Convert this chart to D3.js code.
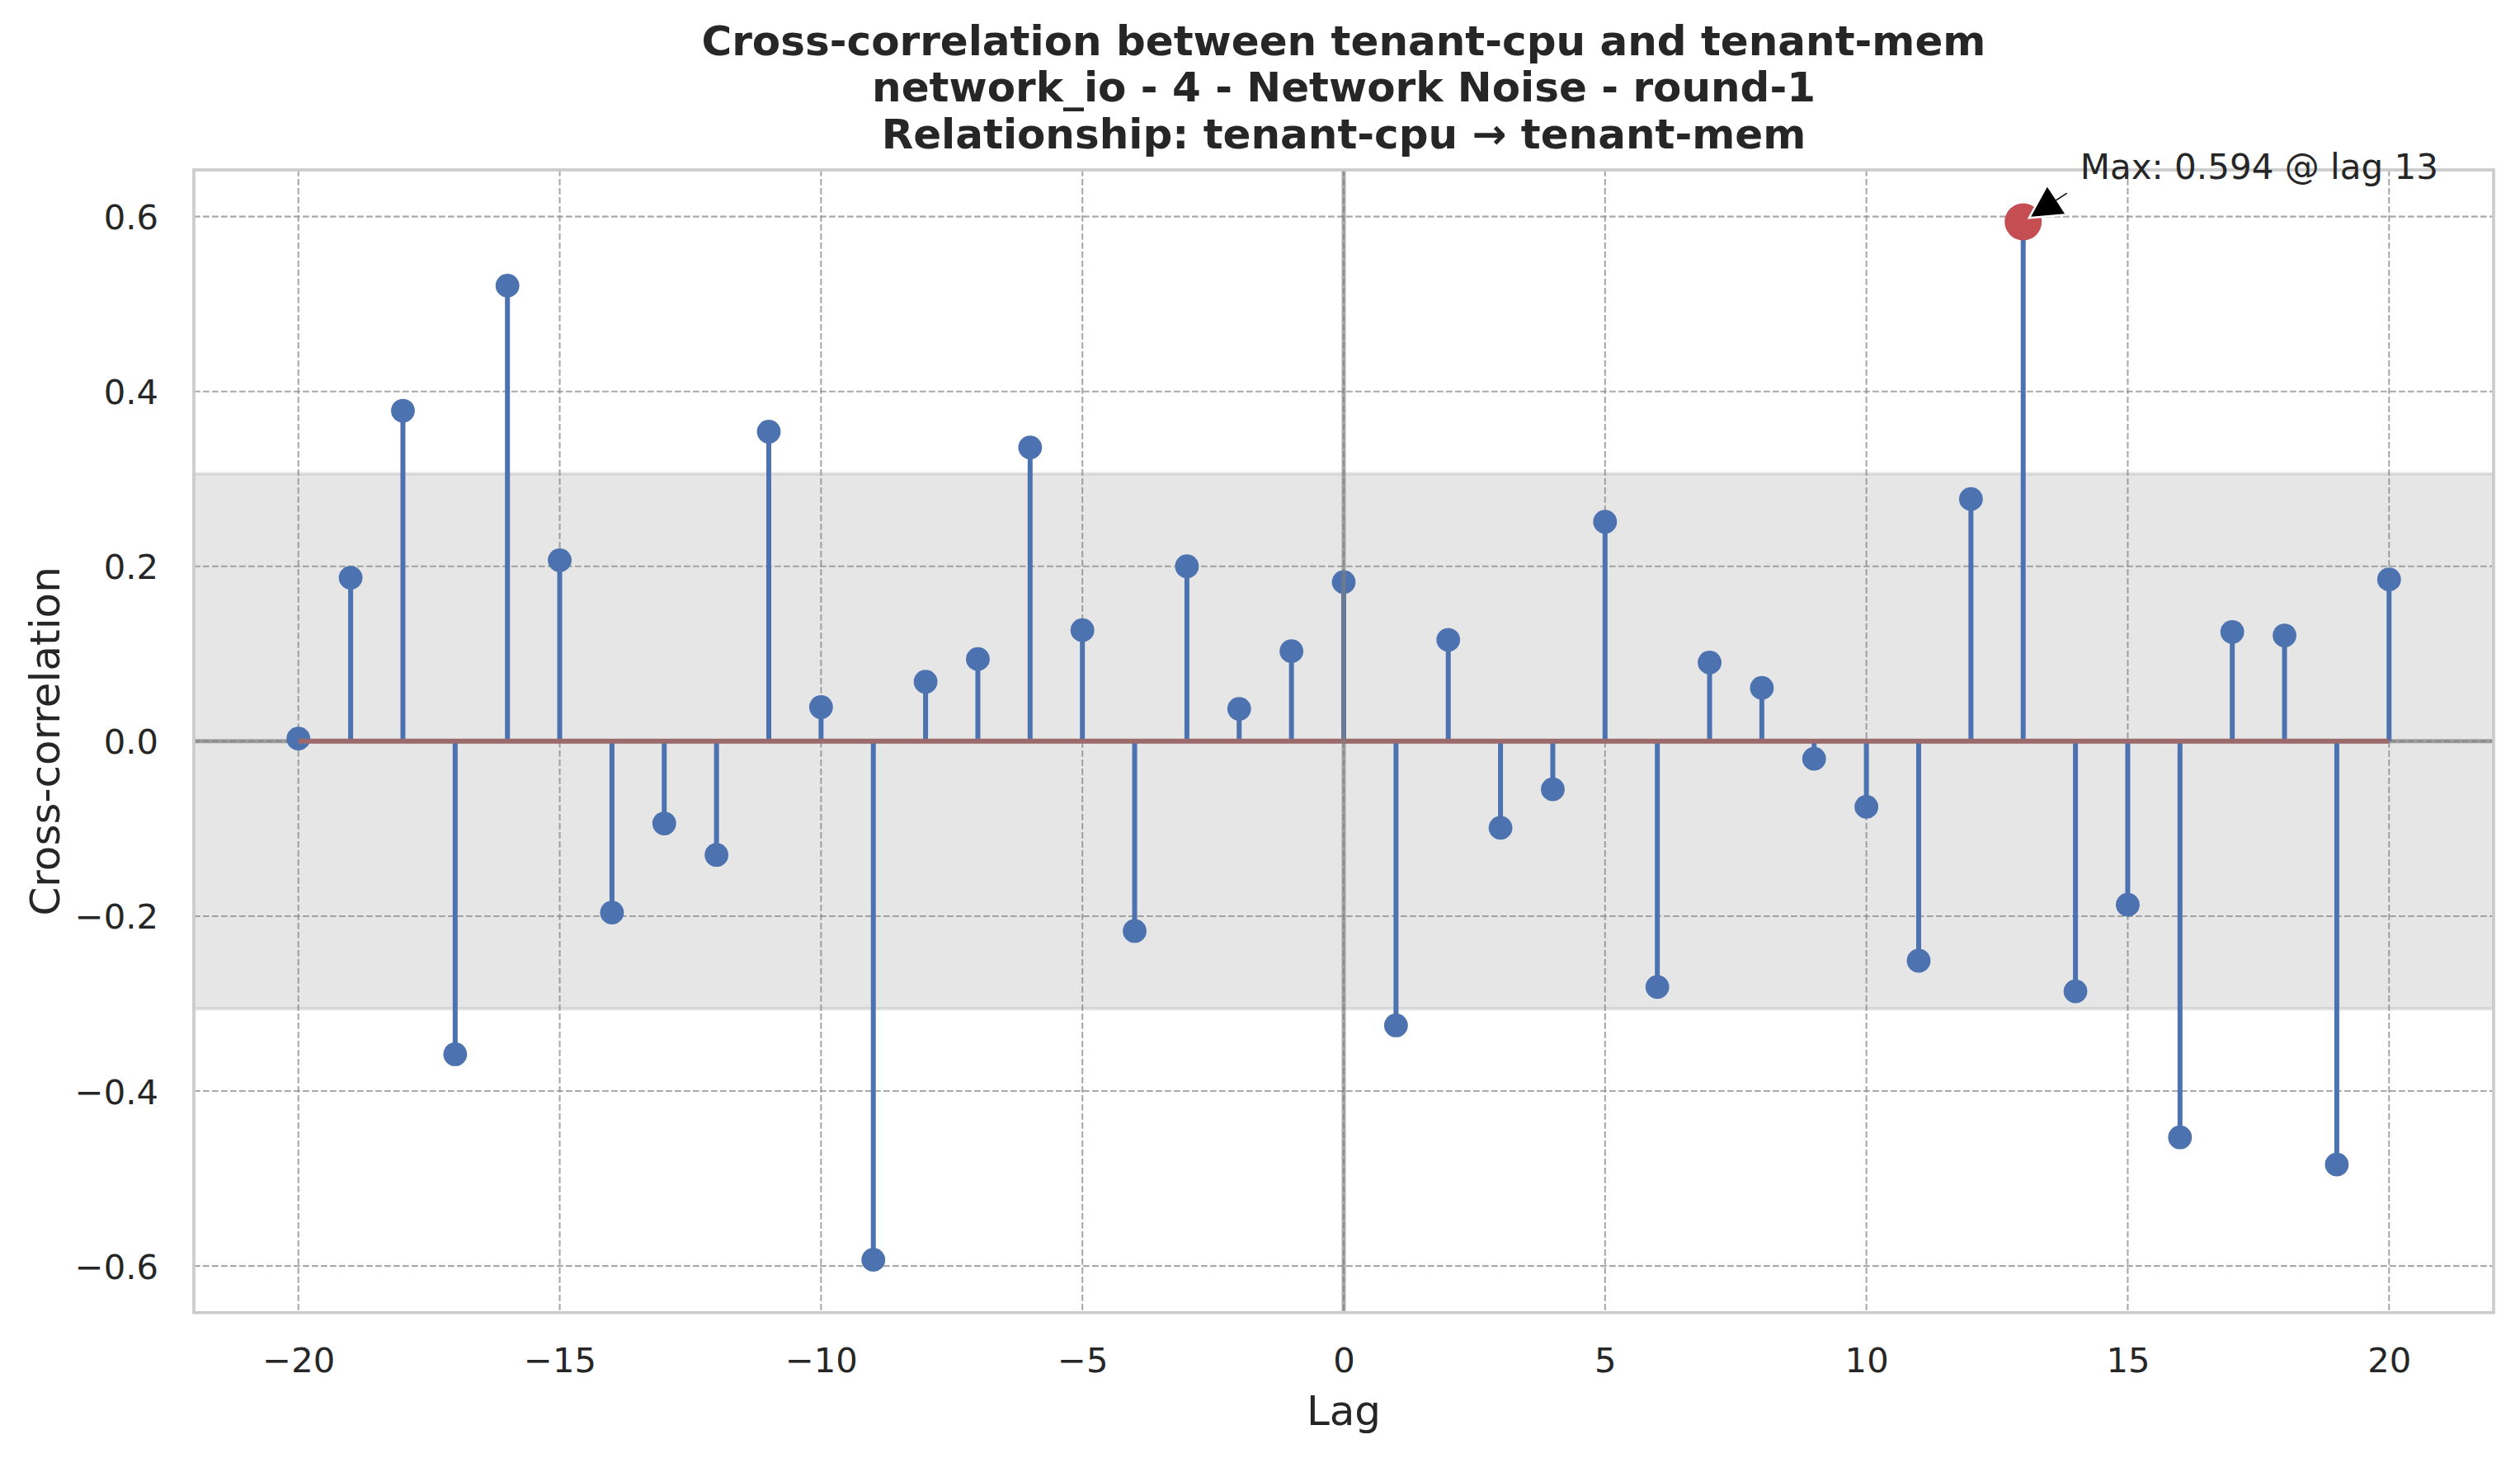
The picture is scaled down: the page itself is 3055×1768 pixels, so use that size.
<!DOCTYPE html>
<html>
<head>
<meta charset="utf-8">
<script src="https://cdn.jsdelivr.net/npm/d3@7"></script>
<style>
  html, body { margin: 0; padding: 0; background: #ffffff; }
  svg { display: block; }
  text { font-family: "DejaVu Sans", sans-serif; fill: #262626; }
</style>
</head>
<body>
<svg id="chart" width="3055" height="1768"></svg>
<script>
// ---- data ----
const lags = [-20,-19,-18,-17,-16,-15,-14,-13,-12,-11,-10,-9,-8,-7,-6,-5,-4,-3,-2,-1,0,1,2,3,4,5,6,7,8,9,10,11,12,13,14,15,16,17,18,19,20];
const ccf  = [0.003,0.187,0.378,-0.358,0.521,0.207,-0.196,-0.094,-0.130,0.354,0.039,-0.593,0.068,0.094,0.336,0.127,-0.217,0.200,0.037,0.103,0.182,-0.325,0.116,-0.099,-0.055,0.251,-0.281,0.090,0.061,-0.020,-0.075,-0.251,0.277,0.594,-0.286,-0.187,-0.453,0.125,0.121,-0.484,0.185];
const xTicks = [-20,-15,-10,-5,0,5,10,15,20];
const yTicks = [-0.6,-0.4,-0.2,0.0,0.2,0.4,0.6];
const confBound = 0.306;
const titleLines = [
  "Cross-correlation between tenant-cpu and tenant-mem",
  "network_io - 4 - Network Noise - round-1",
  "Relationship: tenant-cpu \u2192 tenant-mem"
];
const xLabel = "Lag";
const yLabel = "Cross-correlation";

// ---- derived ----
let maxIdx = 0;
ccf.forEach((v, i) => { if (v > ccf[maxIdx]) maxIdx = i; });
const maxLag = lags[maxIdx], maxVal = ccf[maxIdx];
const annText = `Max: ${maxVal.toFixed(3)} @ lag ${maxLag}`;
const yLim = d3.max(ccf.map(Math.abs)) * 1.1;

// ---- layout ----
const L = 235, R = 3023, T = 206, B = 1591.7;
const svg = d3.select("#chart");
const x = d3.scaleLinear().domain([-22, 22]).range([L, R]);
const y = d3.scaleLinear().domain([-yLim, yLim]).range([B, T]);

const blue = "#4C72B0", red = "#C44E52";

// grid
const grid = svg.append("g");
grid.selectAll(".gx").data(xTicks).join("line")
  .attr("x1", d => x(d)).attr("x2", d => x(d)).attr("y1", T).attr("y2", B)
  .attr("stroke", "#8c8c8c").attr("stroke-opacity", 0.75).attr("stroke-width", 2.1)
  .attr("stroke-dasharray", "7.7,3.3");
grid.selectAll(".gy").data(yTicks).join("line")
  .attr("x1", L).attr("x2", R).attr("y1", d => y(d)).attr("y2", d => y(d))
  .attr("stroke", "#8c8c8c").attr("stroke-opacity", 0.75).attr("stroke-width", 2.1)
  .attr("stroke-dasharray", "7.7,3.3");

// confidence band
svg.append("rect")
  .attr("x", L).attr("width", R - L)
  .attr("y", y(confBound)).attr("height", y(-confBound) - y(confBound))
  .attr("fill", "#808080").attr("fill-opacity", 0.2)
  .attr("stroke", "#808080").attr("stroke-opacity", 0.2).attr("stroke-width", 4);

// horizontal zero reference line (under stems)
svg.append("line")
  .attr("x1", L).attr("x2", R).attr("y1", y(0)).attr("y2", y(0))
  .attr("stroke", "#808080").attr("stroke-opacity", 0.7).attr("stroke-width", 5);

// stems
svg.append("g").selectAll("line").data(lags).join("line")
  .attr("x1", d => x(d)).attr("x2", d => x(d))
  .attr("y1", y(0)).attr("y2", (d, i) => y(ccf[i]))
  .attr("stroke", blue).attr("stroke-width", 6);

// markers
svg.append("g").selectAll("circle").data(lags).join("circle")
  .attr("cx", d => x(d)).attr("cy", (d, i) => y(ccf[i])).attr("r", 14.4)
  .attr("fill", blue);

// baseline
svg.append("line")
  .attr("x1", x(lags[0])).attr("x2", x(lags[lags.length - 1]))
  .attr("y1", y(0)).attr("y2", y(0))
  .attr("stroke", "#9d6a6c").attr("stroke-width", 6);

// vertical zero reference line (over stems)
svg.append("line")
  .attr("x1", x(0)).attr("x2", x(0)).attr("y1", T).attr("y2", B)
  .attr("stroke", "#808080").attr("stroke-opacity", 0.65).attr("stroke-width", 5);

// max marker
svg.append("circle")
  .attr("cx", x(maxLag)).attr("cy", y(maxVal)).attr("r", 22.5)
  .attr("fill", red);

// spines
svg.append("rect")
  .attr("x", L).attr("y", T).attr("width", R - L).attr("height", B - T)
  .attr("fill", "none").attr("stroke", "#cccccc").attr("stroke-width", 3.7);

// annotation arrow
const px = x(maxLag), py = y(maxVal);
const tx = x(maxLag + 0.87), ty = y(maxVal + 0.034);
const dx = tx - px, dy = ty - py, len = Math.hypot(dx, dy);
const ux = dx / len, uy = dy / len, nx = -uy, ny = ux;
const tip = [px + ux * len * 0.13, py + uy * len * 0.13];
const base = [px + ux * len * 0.74, py + uy * len * 0.74];
const tail = [px + ux * len * 0.98, py + uy * len * 0.98];
const hw = 21.5, sw = 2;
const arrowPts = [
  tip,
  [base[0] + nx * hw, base[1] + ny * hw],
  [base[0] + nx * sw, base[1] + ny * sw],
  [tail[0] + nx * sw, tail[1] + ny * sw],
  [tail[0] - nx * sw, tail[1] - ny * sw],
  [base[0] - nx * sw, base[1] - ny * sw],
  [base[0] - nx * hw, base[1] - ny * hw]
];
svg.append("polygon")
  .attr("points", arrowPts.map(p => p.join(",")).join(" "))
  .attr("fill", "#000000").attr("stroke", "#ffffff").attr("stroke-width", 2.5)
  .attr("stroke-linejoin", "miter");

svg.append("text")
  .attr("x", x(maxLag + 1.09)).attr("y", y(maxVal + 0.0487))
  .attr("font-size", 42).text(annText);

// axes
const fmtX = d3.format("d"), fmtY = d3.format(".1f");
const gx = svg.append("g").attr("transform", `translate(0,${B})`)
  .call(d3.axisBottom(x).tickValues(xTicks).tickSize(0).tickFormat(fmtX));
gx.select(".domain").remove();
gx.selectAll("text").attr("y", 0).attr("dy", 0)
  .attr("transform", "translate(0,72.3)")
  .attr("font-size", 41.7).attr("font-family", "DejaVu Sans").attr("fill", "#262626");

const gy = svg.append("g").attr("transform", `translate(${L},0)`)
  .call(d3.axisLeft(y).tickValues(yTicks).tickSize(0).tickFormat(fmtY));
gy.select(".domain").remove();
gy.selectAll("text").attr("x", -43).attr("dy", "0.36em")
  .attr("font-size", 41.7).attr("font-family", "DejaVu Sans").attr("fill", "#262626");

// labels
svg.append("text")
  .attr("x", (L + R) / 2).attr("y", 1728.3).attr("text-anchor", "middle")
  .attr("font-size", 50).text(xLabel);
svg.append("text")
  .attr("transform", `translate(72,${(T + B) / 2}) rotate(-90)`)
  .attr("text-anchor", "middle").attr("font-size", 50).text(yLabel);

// title
const titleBase = [66.7, 123.3, 180];
svg.append("g").selectAll("text").data(titleLines).join("text")
  .attr("x", (L + R) / 2).attr("y", (d, i) => titleBase[i])
  .attr("text-anchor", "middle").attr("font-size", 50).attr("font-weight", "bold")
  .text(d => d);
</script>
</body>
</html>
